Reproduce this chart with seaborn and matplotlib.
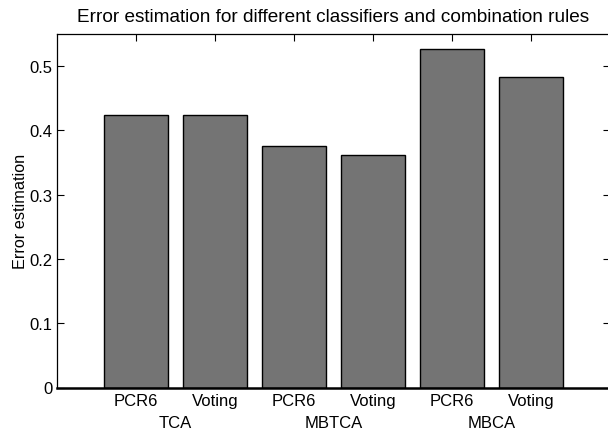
import matplotlib
matplotlib.use("Agg")
import matplotlib.pyplot as plt
import matplotlib.transforms as mtransforms
import seaborn as sns
import pandas as pd
import numpy as np

groups = ["TCA", "TCA", "MBTCA", "MBTCA", "MBCA", "MBCA"]
methods = ["PCR6", "Voting", "PCR6", "Voting", "PCR6", "Voting"]
errors = [0.424, 0.424, 0.375, 0.361, 0.526, 0.483]
group_names = ["TCA", "MBTCA", "MBCA"]
ytick_values = [0, 0.1, 0.2, 0.3, 0.4, 0.5]
ytick_labels = ["0", "0.1", "0.2", "0.3", "0.4", "0.5"]

sns.set_style("white")
plt.rcParams["font.family"] = ["Liberation Sans", "DejaVu Sans"]
plt.rcParams["text.color"] = "black"
plt.rcParams["axes.labelcolor"] = "black"

df = pd.DataFrame({"key": [f"{g}-{m}" for g, m in zip(groups, methods)],
                   "group": groups, "method": methods, "error": errors})

fig = plt.figure(figsize=(6.08, 4.35), dpi=100)
ax = fig.add_axes([57 / 608, (435 - 388.5) / 435, (610 - 57) / 608, (388.5 - 35) / 435])

sns.barplot(data=df, x="key", y="error", color="#747474", saturation=1,
            edgecolor="black", linewidth=1.0, width=0.8, ax=ax)
for p in ax.patches:
    p.set_facecolor("#747474")

ax.set_xlim(-1, len(errors))
ax.set_ylim(0, 0.55)
ax.set_yticks(ytick_values)
ax.set_yticklabels(ytick_labels)
ax.set_xticks(range(len(errors)))
ax.set_xticklabels(methods)
ax.set_xlabel("")
ax.set_ylabel("Error estimation", fontsize=11.7, labelpad=1.5)
ax.set_title("Error estimation for different classifiers and combination rules",
             fontsize=13.7, pad=9.5, color="black")

ax.tick_params(axis="both", which="both", direction="in", length=5, width=0.8,
               labelsize=12, colors="black", labelcolor="black", top=True, right=True,
               bottom=True, left=True)
ax.tick_params(axis="x", pad=4)
ax.tick_params(axis="y", pad=3)
for s in ["left", "top", "right"]:
    ax.spines[s].set_linewidth(0.9)
    ax.spines[s].set_color("black")
ax.spines["bottom"].set_linewidth(1.8)
ax.spines["bottom"].set_color("black")

trans = mtransforms.blended_transform_factory(ax.transData, ax.transAxes)
for gname in group_names:
    idx = [i for i, g in enumerate(groups) if g == gname]
    ax.text(np.mean(idx), -0.098, gname, transform=trans, ha="center", va="center",
            fontsize=12, color="black")

fig.savefig("out.png", dpi=100)
